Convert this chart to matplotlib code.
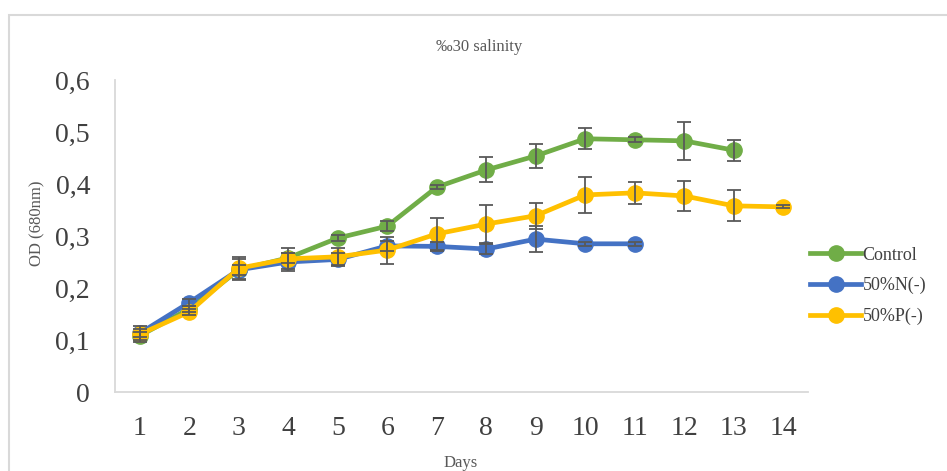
import matplotlib.pyplot as plt
from matplotlib.patches import Rectangle

plt.rcParams['font.family'] = ['Liberation Serif', 'DejaVu Serif']

days = list(range(1, 15))

control = [0.108, 0.160, 0.235, 0.258, 0.296, 0.319, 0.394, 0.427, 0.454, 0.487, 0.485, 0.483, 0.465]
control_err = [0.008, 0.006, 0.010, 0.010, 0.006, 0.010, 0.004, 0.024, 0.023, 0.020, 0.005, 0.037, 0.020]

n_minus = [0.113, 0.172, 0.235, 0.250, 0.255, 0.281, 0.280, 0.275, 0.294, 0.285, 0.285]
n_err = [0.008, 0.006, 0.020, 0.018, 0.012, 0.010, 0.008, 0.010, 0.025, 0.004, 0.004]

p_minus = [0.111, 0.154, 0.238, 0.256, 0.260, 0.273, 0.304, 0.323, 0.339, 0.379, 0.383, 0.377, 0.358, 0.356]
p_err = [0.015, 0.006, 0.021, 0.020, 0.016, 0.026, 0.030, 0.036, 0.025, 0.034, 0.021, 0.029, 0.030, 0.003]

series = [
    ('Control', control, control_err, '#70AD47'),
    ('50%N(-)', n_minus, n_err, '#4472C4'),
    ('50%P(-)', p_minus, p_err, '#FFC000'),
]

fig = plt.figure(figsize=(9.47, 4.71), dpi=100)
# light outer chart border (runs off the right and bottom edges)
fig.patches.append(Rectangle((9 / 947, -0.1), 1.2, 1 - 15 / 471 + 0.1, transform=fig.transFigure,
                             fill=False, edgecolor='#D9D9D9', linewidth=1.5))

ax = fig.add_axes([115 / 947, 1 - 392 / 471, (808 - 115) / 947, (392 - 80) / 471])

for i, (name, vals, err, col) in enumerate(series):
    x = days[:len(vals)]
    ax.plot(x, vals, color=col, lw=3.4, marker='o', markersize=11, label=name, zorder=2 + i)
    ax.errorbar(x, vals, yerr=err, fmt='none', ecolor='#595959', elinewidth=1.3,
                capsize=5, capthick=1.3, zorder=5)

ax.set_xlim(0.5, 14.5)
ax.set_ylim(0, 0.6)
ax.set_xticks(days)
ax.set_yticks([0, 0.1, 0.2, 0.3, 0.4, 0.5, 0.6])
ax.set_yticklabels(['0', '0,1', '0,2', '0,3', '0,4', '0,5', '0,6'])
ax.tick_params(length=0, labelsize=20, labelcolor='#404040')
ax.tick_params(axis='x', pad=17)
ax.tick_params(axis='y', pad=18)
for s in ['top', 'right']:
    ax.spines[s].set_visible(False)
for s in ['left', 'bottom']:
    ax.spines[s].set_color('#D9D9D9')
    ax.spines[s].set_linewidth(1.3)

fig.text(479 / 947, 1 - 47 / 471, '\u203030 salinity', ha='center', va='center',
         fontsize=12, color='#595959')
fig.text(37 / 947, 1 - 223 / 471, 'OD (680nm)', ha='center', va='center',
         rotation=90, fontsize=12, color='#595959')
fig.text(461 / 947, 1 - 463 / 471, 'Days', ha='center', va='center',
         fontsize=12, color='#595959')

ax.legend(loc='center left', bbox_to_anchor=(803 / 947, 1 - 286 / 471),
          bbox_transform=fig.transFigure, frameon=False, fontsize=13,
          handlelength=2.8, handletextpad=0.1, labelspacing=0.75,
          labelcolor='#404040', borderaxespad=0)

fig.savefig('out.png', dpi=100)
